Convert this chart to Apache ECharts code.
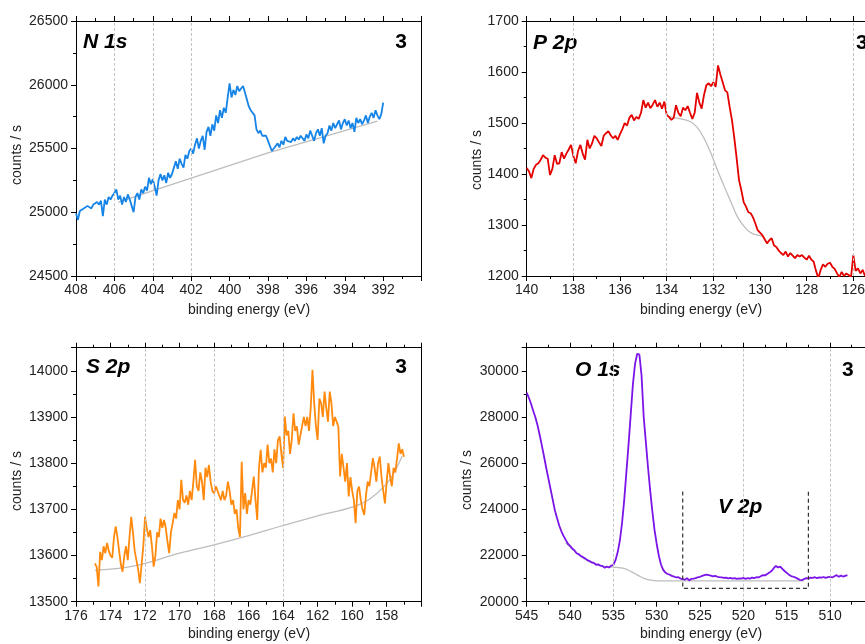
<!DOCTYPE html>
<html>
<head>
<meta charset="utf-8">
<script src="https://cdn.jsdelivr.net/npm/echarts@6/dist/echarts.min.js"></script>
<style>
  html, body { margin: 0; padding: 0; background: #fff; }
  #chart { width: 865px; height: 644px; }
</style>
</head>
<body>
<div id="chart"></div>
<script>
// ---- N 1s : 408.0 -> 392.0 eV, 0.1 eV steps
const n1sStart = 408.0, n1sStep = 0.1;
const n1sCounts = [
  24990, 24940, 25010, 25000, 25030, 25020, 25050, 25040, 25030, 25060,
  25050, 25080, 25060, 25090, 24970, 25100, 25060, 25120, 25100, 25130,
  25150, 25180, 25100, 25130, 25060, 25120, 25080, 25140, 25100, 25050,
  25000, 25120, 25150, 25100, 25180, 25150, 25200, 25170, 25270, 25220,
  25260, 25200, 25130, 25250, 25300, 25250, 25290, 25230, 25310, 25270,
  25300, 25350, 25400, 25340, 25420, 25380, 25350, 25450, 25420, 25480,
  25500, 25460, 25530, 25580, 25500, 25560, 25600, 25490, 25630, 25670,
  25600, 25690, 25640, 25760, 25700, 25800, 25740, 25820, 25780, 25900,
  26010, 25900, 25960, 25920, 25990, 25950, 25970, 25990, 25940, 25930,
  25830, 25800, 25810, 25760, 25650, 25620, 25640, 25600, 25610, 25600,
  25560, 25520, 25480, 25490, 25520, 25540, 25510, 25560, 25530, 25590,
  25560, 25570, 25550, 25580, 25560, 25590, 25570, 25600, 25580, 25560,
  25610, 25580, 25640, 25600, 25560, 25620, 25650, 25600, 25660, 25540,
  25600, 25620, 25680, 25640, 25700, 25660, 25690, 25720, 25650, 25700,
  25730, 25680, 25720, 25660, 25700, 25630, 25740, 25700, 25730, 25690,
  25720, 25760, 25700, 25750, 25780, 25740, 25800, 25760, 25730, 25770,
  25860
];
const n1sBackground = [[405.8, 25080], [398, 25465], [392.3, 25715]];
const n1sGuides = [406, 404, 402];

// ---- P 2p : 140.0 -> 125.0 eV
const p2pStart = 140.0, p2pStep = 0.1;
const p2pCounts = [
  1412, 1405, 1392, 1410, 1418, 1421, 1428, 1437, 1432, 1430,
  1398, 1410, 1437, 1420, 1421, 1443, 1430, 1440, 1448, 1457,
  1435, 1421, 1445, 1457, 1440, 1428, 1467, 1450, 1460, 1475,
  1470, 1462, 1455, 1475, 1480, 1484, 1476, 1470, 1475, 1467,
  1478, 1488, 1500, 1495, 1510, 1516, 1505, 1512, 1508, 1520,
  1545, 1530, 1540, 1529, 1536, 1545, 1532, 1540, 1528, 1542,
  1516, 1512, 1506, 1510, 1535, 1520, 1513, 1530, 1525, 1533,
  1520, 1508, 1520, 1559, 1540, 1528, 1555, 1574, 1578, 1572,
  1580, 1571, 1613, 1595, 1580, 1564, 1560, 1531, 1505, 1470,
  1430, 1388, 1368, 1345, 1336, 1325, 1323, 1315, 1303, 1290,
  1285, 1280, 1272, 1264, 1270, 1274, 1260, 1257, 1250, 1245,
  1241, 1248, 1238, 1245, 1240, 1235, 1241, 1238, 1241, 1236,
  1232, 1240, 1232, 1228, 1210, 1196, 1212, 1223, 1218, 1224,
  1226, 1218, 1214, 1205, 1198, 1208, 1200, 1205, 1202, 1197,
  1241, 1210, 1215, 1205, 1212, 1200, 1208, 1203, 1210, 1205,
  1208
];
const p2pBackground = [
  [134.0, 1513], [133.5, 1509], [133.0, 1503], [132.7, 1492], [132.4, 1470],
  [132.07, 1437], [131.8, 1405], [131.5, 1372], [131.2, 1340], [130.93, 1313],
  [130.6, 1293], [130.36, 1284], [130.1, 1280], [129.85, 1278]
];
const p2pGuides = [138, 134, 132, 126];

// ---- S 2p : 174.9 -> 157.0 eV
const s2pStart = 174.9, s2pStep = 0.1;
const s2pCounts = [
  13583, 13575, 13533, 13608, 13590, 13620, 13605, 13627, 13610, 13600,
  13595, 13640, 13663, 13640, 13610, 13580, 13565, 13600, 13620, 13590,
  13640, 13684, 13650, 13610, 13590, 13570, 13540, 13580, 13620, 13684,
  13660, 13640, 13655, 13620, 13576, 13600, 13650, 13640, 13680, 13660,
  13677, 13660, 13630, 13605, 13650, 13670, 13692, 13680, 13720, 13700,
  13764, 13720, 13714, 13730, 13710, 13740, 13720, 13760, 13807, 13750,
  13740, 13780, 13760, 13720, 13790, 13770, 13796, 13760, 13740, 13735,
  13750, 13740, 13730, 13720, 13740, 13720, 13730, 13760, 13740, 13710,
  13720, 13690, 13700, 13660, 13640, 13803, 13700, 13735, 13690, 13720,
  13710, 13740, 13771, 13720, 13677, 13790, 13829, 13780, 13800, 13790,
  13840, 13800, 13810, 13780, 13830, 13800, 13850, 13858, 13820, 13790,
  13901, 13860, 13870, 13820, 13850, 13908, 13870, 13880, 13840, 13860,
  13860, 13900, 13880, 13900, 13870, 13920, 14002, 13930, 13880, 13850,
  13940, 13930, 13900, 13955, 13920, 13890, 13955, 13930, 13880, 13900,
  13890, 13879, 13771, 13820, 13790, 13760, 13800, 13728, 13770, 13740,
  13720, 13670, 13740, 13749, 13720, 13700, 13688, 13730, 13760, 13750,
  13780, 13811, 13790, 13760, 13800, 13814, 13770, 13740, 13713, 13760,
  13800, 13770, 13750, 13790, 13780, 13810, 13843, 13820, 13830, 13814
];
const s2pBackground = [
  [174.9, 13568], [173, 13575], [172, 13583], [170, 13605], [168, 13623],
  [166, 13643], [164, 13665], [162, 13686], [160, 13705], [159, 13722],
  [158, 13755], [157.5, 13785], [157.1, 13815]
];
const s2pGuides = [172, 168, 164];

// ---- O 1s / V 2p : 545.0 -> 508.0 eV, 0.25 eV steps
const o1sStart = 545.0, o1sStep = 0.25;
const o1sCounts = [
  29050, 28830, 28570, 28270, 27990, 27640, 27220, 26760,
  26290, 25800, 25340, 24880, 24420, 23960, 23620, 23300,
  23050, 22850, 22680, 22510, 22420, 22300, 22230, 22100,
  22060, 21980, 21930, 21870, 21800, 21760, 21700, 21680,
  21600, 21620, 21560, 21540, 21470, 21520, 21480, 21560,
  21590, 21800, 22150, 22650, 23400, 24400, 25600, 26800,
  28100, 29400, 30300, 30740, 30700, 29800, 28000, 26900,
  25800, 24800, 23900, 23100, 22500, 21980, 21600, 21380,
  21260, 21200, 21170, 21120, 21090, 21050, 21060, 21000,
  20980, 20950, 21020, 20920, 20990, 21000, 21020, 21060,
  21080, 21120, 21150, 21170, 21150, 21130, 21100, 21120,
  21080, 21060, 21050, 21030, 21040, 21010, 21030, 21000,
  21020, 20990, 21010, 21000, 21030, 20990, 21020, 21000,
  21040, 21020, 21060, 21050, 21100, 21150, 21140, 21200,
  21260, 21330, 21450, 21550, 21480, 21520, 21420, 21330,
  21250, 21170, 21110, 21080, 21050, 21000, 20950, 20930,
  20980, 21020, 21000, 21040, 21030, 21060, 21020, 21050,
  21040, 21070, 21030, 21060, 21080, 21050, 21100, 21150,
  21080, 21130, 21090, 21120, 21150
];
const o1sBackground = [
  [540.5, 22550], [539, 22030], [538, 21780], [537, 21620], [536, 21530],
  [535, 21500], [534.3, 21470], [533.77, 21448], [533.2, 21350], [532.6, 21231],
  [532, 21110], [531.47, 21014], [530.9, 20950], [530.3, 20910], [529, 20900],
  [513, 20900]
];
const o1sGuides = [535, 520, 510];
const v2pWindow = [527, 512.5];       // eV
const v2pWindowCounts = [20580, 24770];

const font = '"Liberation Sans", Arial, sans-serif';

function spectrum(start, step, counts) {
  return counts.map((c, i) => [+(start - i * step).toFixed(3), c]);
}

const panels = [
  { grid: { left: 76, top: 21, width: 345.6, height: 255 },
    x: [390, 408, 2], y: [24500, 26500, 500],
    color: '#1584e6', data: spectrum(n1sStart, n1sStep, n1sCounts),
    bg: n1sBackground, guides: n1sGuides, smoothBg: false },
  { grid: { left: 526.7, top: 21, width: 373.3, height: 255 },
    x: [124, 140, 2], y: [1200, 1700, 100],
    color: '#e50000', data: spectrum(p2pStart, p2pStep, p2pCounts),
    bg: p2pBackground, guides: p2pGuides, smoothBg: true },
  { grid: { left: 76, top: 347.7, width: 345.2, height: 254 },
    x: [156, 176, 2], y: [13500, 14050, 100],
    color: '#ff8a0d', data: spectrum(s2pStart, s2pStep, s2pCounts),
    bg: s2pBackground, guides: s2pGuides, smoothBg: true },
  { grid: { left: 526.7, top: 347.7, width: 346.7, height: 254 },
    x: [505, 545, 5], y: [20000, 31000, 2000],
    color: '#7b14e8', data: spectrum(o1sStart, o1sStep, o1sCounts),
    bg: o1sBackground, guides: o1sGuides, smoothBg: true }
];

const grids = [], xAxes = [], yAxes = [], series = [];

panels.forEach((p, i) => {
  // the right column runs past the picture edge, so no label containment
  grids.push(Object.assign({ show: false, containLabel: false, outerBoundsMode: 'none' }, p.grid));
  const [xMin, xMax, xInt] = p.x;
  const [yMin, yMax, yInt] = p.y;
  const lineBlack = { color: '#000', width: 1 };

  const xBase = {
    gridIndex: i, type: 'value', inverse: true, min: xMin, max: xMax, interval: xInt,
    axisLine: { show: true, onZero: false, lineStyle: lineBlack },
    axisTick: { show: true, inside: false, length: 5, lineStyle: lineBlack },
    minorTick: { show: true, splitNumber: 2, length: 3, lineStyle: lineBlack },
    splitLine: { show: false }
  };
  xAxes.push(Object.assign({}, xBase, {
    position: 'bottom',
    axisLabel: {
      margin: 7, color: '#222', fontSize: 14, fontFamily: font,
      formatter: v => (v === xMin) ? '' : String(v)
    }
  }));
  xAxes.push(Object.assign({}, xBase, { position: 'top', axisLabel: { show: false } }));

  yAxes.push({
    gridIndex: i, type: 'value', min: yMin, max: yMax, interval: yInt, position: 'left',
    axisLine: { show: true, onZero: false, lineStyle: lineBlack },
    axisTick: { show: true, inside: false, length: 5, lineStyle: lineBlack },
    minorTick: { show: true, splitNumber: 2, length: 3, lineStyle: lineBlack },
    splitLine: { show: false },
    axisLabel: {
      margin: 8, color: '#222', fontSize: 14, fontFamily: font,
      formatter: v => ((v - yMin) % yInt === 0) ? String(v) : ''
    }
  });
  yAxes.push({
    gridIndex: i, type: 'value', min: yMin, max: yMax, position: 'right',
    axisLine: { show: true, onZero: false, lineStyle: lineBlack },
    axisTick: { show: false }, axisLabel: { show: false }, splitLine: { show: false }
  });

  const xi = i * 2, yi = i * 2;
  // dotted guide lines
  series.push({
    type: 'line', xAxisIndex: xi, yAxisIndex: yi, data: [], z: 1,
    markLine: {
      silent: true, symbol: 'none', label: { show: false },
      lineStyle: { type: [3, 2], color: '#c4c4c4', width: 1 },
      data: p.guides.map(g => ({ xAxis: g }))
    }
  });
  // background
  series.push({
    type: 'line', xAxisIndex: xi, yAxisIndex: yi, data: p.bg, z: 2,
    smooth: p.smoothBg ? 0.4 : false, showSymbol: false, silent: true,
    lineStyle: { color: '#bdbdbd', width: 1.3 }
  });
  // measured spectrum
  series.push({
    type: 'line', xAxisIndex: xi, yAxisIndex: yi, data: p.data, z: 3,
    showSymbol: false, silent: true, clip: true,
    lineStyle: { color: p.color, width: 1.8 }
  });
});

// V 2p window (dashed) in the O 1s panel
series.push({
  type: 'line', xAxisIndex: 6, yAxisIndex: 6, z: 4, showSymbol: false, silent: true,
  data: [
    [v2pWindow[0], v2pWindowCounts[1]], [v2pWindow[0], v2pWindowCounts[0]],
    [v2pWindow[1], v2pWindowCounts[0]], [v2pWindow[1], v2pWindowCounts[1]]
  ],
  lineStyle: { color: '#333', width: 1.2, type: [4, 3] }
});

function label(text, x, y, opts) {
  return {
    type: 'text', x: x, y: y, silent: true,
    style: Object.assign({
      text: text, fill: '#000', font: 'italic bold 21px ' + font,
      align: 'left', verticalAlign: 'middle'
    }, opts || {})
  };
}
const numFont = 'bold 21px ' + font;
const axisFont = '14px ' + font;

const graphics = [
  label('N 1s', 83, 42),
  label('3', 407, 42, { font: numFont, align: 'right' }),
  label('P 2p', 533, 43),
  label('3', 856, 43, { font: numFont }),
  label('S 2p', 86, 367),
  label('3', 407, 367, { font: numFont, align: 'right' }),
  label('O 1s', 575, 370),
  label('3', 842, 370, { font: numFont }),
  label('V 2p', 718, 507),
  label('binding energy (eV)', 249, 310, { font: axisFont, align: 'center', fill: '#222' }),
  label('binding energy (eV)', 701, 310, { font: axisFont, align: 'center', fill: '#222' }),
  label('binding energy (eV)', 249, 634, { font: axisFont, align: 'center', fill: '#222' }),
  label('binding energy (eV)', 701, 634, { font: axisFont, align: 'center', fill: '#222' })
];
[[17, 155], [477, 160], [17, 481], [467, 480]].forEach(([x, y]) => {
  graphics.push({
    type: 'text', x: x, y: y, rotation: Math.PI / 2, silent: true,
    style: { text: 'counts / s', fill: '#222', font: axisFont, align: 'center', verticalAlign: 'middle' }
  });
});

const chart = echarts.init(document.getElementById('chart'), null, { renderer: 'canvas' });
chart.setOption({
  animation: false,
  backgroundColor: '#fff',
  grid: grids,
  xAxis: xAxes,
  yAxis: yAxes,
  series: series,
  graphic: graphics
});
</script>
</body>
</html>
